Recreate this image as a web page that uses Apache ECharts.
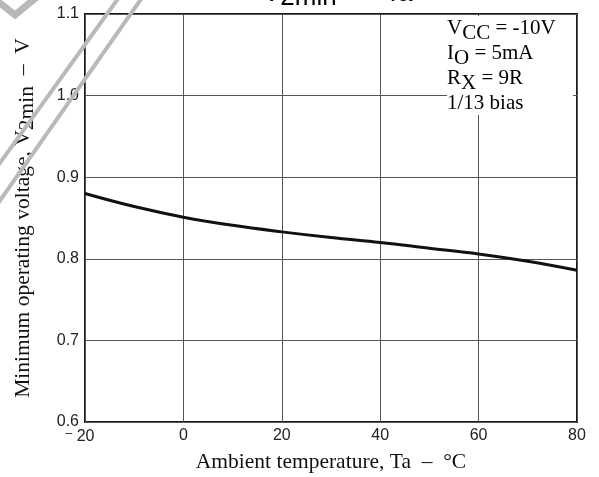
<!DOCTYPE html>
<html>
<head>
<meta charset="utf-8">
<script src="https://cdn.jsdelivr.net/npm/echarts@6/dist/echarts.min.js"></script>
<style>html,body{margin:0;padding:0;background:#fff}#c{width:599px;height:477px}</style>
</head>
<body>
<div id="c"></div>
<script>
// Data
var temperatures = [-20, -10, 0, 10, 20, 30, 40, 50, 60, 70, 80];
var v2min = [0.880, 0.864, 0.851, 0.841, 0.833, 0.826, 0.820, 0.813, 0.806, 0.797, 0.786];
var xTicks = [-20, 0, 20, 40, 60, 80];
var yTicks = [0.6, 0.7, 0.8, 0.9, 1.0, 1.1];
var conditions = [
  ['V', 'CC', ' = -10V'],
  ['I', 'O', ' = 5mA'],
  ['R', 'X', ' = 9R'],
  ['1/13 bias', '', '']
];

var serif = '"Liberation Serif", "DejaVu Serif", serif';
var sans = '"Liberation Sans", Arial, sans-serif';

var chart = echarts.init(document.getElementById('c'), null, {renderer: 'canvas'});

var seriesData = temperatures.map(function (t, i) { return [t, v2min[i]]; });

var graphics = [];
// conditions box
graphics.push({
  type: 'rect', z: 50,
  shape: {x: 447, y: 16, width: 126, height: 99},
  style: {fill: '#fff'}
});
conditions.forEach(function (c, i) {
  var txt = '{m|' + c[0] + '}' + (c[1] ? '{s|' + c[1] + '}' : '') + (c[2] ? '{m|' + c[2] + '}' : '');
  graphics.push({
    type: 'text', z: 51, x: 447, y: 18 + i * 25,
    style: {
      text: txt, verticalAlign: 'top',
      rich: {
        m: {fontFamily: serif, fontSize: 21, color: '#111', lineHeight: 22, verticalAlign: 'top'},
        s: {fontFamily: serif, fontSize: 21, color: '#111', lineHeight: 26, verticalAlign: 'bottom'}
      }
    }
  });
});
// title (partially cut at top)
var titleRich = {
  m: {fontFamily: sans, fontSize: 26, color: '#111', lineHeight: 26, verticalAlign: 'top'},
  s: {fontFamily: sans, fontSize: 26, color: '#111', lineHeight: 30, verticalAlign: 'bottom'}
};
graphics.push({
  type: 'text', z: 51, x: 263, y: -19,
  style: {text: '{m|V}{s|2min}{m|  \u2013}', verticalAlign: 'top', rich: titleRich}
});
graphics.push({
  type: 'text', z: 51, x: 385, y: -19,
  style: {text: '{m|Ta}', verticalAlign: 'top', rich: titleRich}
});
// watermark strokes
graphics.push({type: 'polyline', z: 60, shape: {points: [[125, -11], [-8, 174]]}, style: {stroke: '#b9b9b9', lineWidth: 4}});
graphics.push({type: 'polyline', z: 60, shape: {points: [[146, -8], [-6, 209]]}, style: {stroke: '#b9b9b9', lineWidth: 4}});
graphics.push({type: 'polyline', z: 60, shape: {points: [[-4, 0], [15, 15], [38, -4]]}, style: {stroke: '#b9b9b9', lineWidth: 7, lineJoin: 'miter'}});

chart.setOption({
  animation: false,
  backgroundColor: '#fff',
  grid: {left: 85, right: 22, top: 14, bottom: 55, outerBoundsMode: 'none', containLabel: false,
    show: true, borderColor: '#1a1a1a', borderWidth: 2, backgroundColor: 'transparent'},
  xAxis: {
    type: 'value', min: xTicks[0], max: xTicks[xTicks.length - 1], interval: 20,
    axisLine: {show: false}, axisTick: {show: false},
    splitLine: {show: true, lineStyle: {color: '#555', width: 1}},
    axisLabel: {
      margin: 6, color: '#222', fontFamily: sans, fontSize: 16,
      formatter: function (v) {
        return v < 0 ? '{d|\u2013} {n|' + Math.abs(v) + '}' : String(v);
      },
      rich: {
        d: {fontFamily: sans, fontSize: 12, color: '#222', padding: [0, 0, 5, 0]},
        n: {fontFamily: sans, fontSize: 16, color: '#222', padding: [0, 10, 0, 0]}
      }
    },
    name: 'Ambient temperature, Ta  \u2013  \u00B0C',
    nameLocation: 'middle', nameGap: 29,
    nameTextStyle: {fontFamily: serif, fontSize: 21.5, color: '#111'}
  },
  yAxis: {
    type: 'value', min: yTicks[0], max: yTicks[yTicks.length - 1], interval: 0.1,
    axisLine: {show: false}, axisTick: {show: false},
    splitLine: {show: true, lineStyle: {color: '#555', width: 1}},
    axisLabel: {
      margin: 6, color: '#222', fontFamily: sans, fontSize: 16,
      formatter: function (v) { return v.toFixed(1); }
    },
    name: '{m|Minimum operating voltage, V}{s|2min}{m|  \u2013  V}',
    nameLocation: 'middle', nameRotate: 90, nameGap: 47,
    nameTextStyle: {
      rich: {
        m: {fontFamily: serif, fontSize: 21.5, color: '#111', lineHeight: 22, verticalAlign: 'top'},
        s: {fontFamily: serif, fontSize: 21.5, color: '#111', lineHeight: 26, verticalAlign: 'bottom'}
      }
    }
  },
  series: [{
    type: 'line', data: seriesData, smooth: 0.4, showSymbol: false,
    lineStyle: {color: '#111', width: 3}, z: 5
  }],
  graphic: graphics
});
</script>
</body>
</html>
